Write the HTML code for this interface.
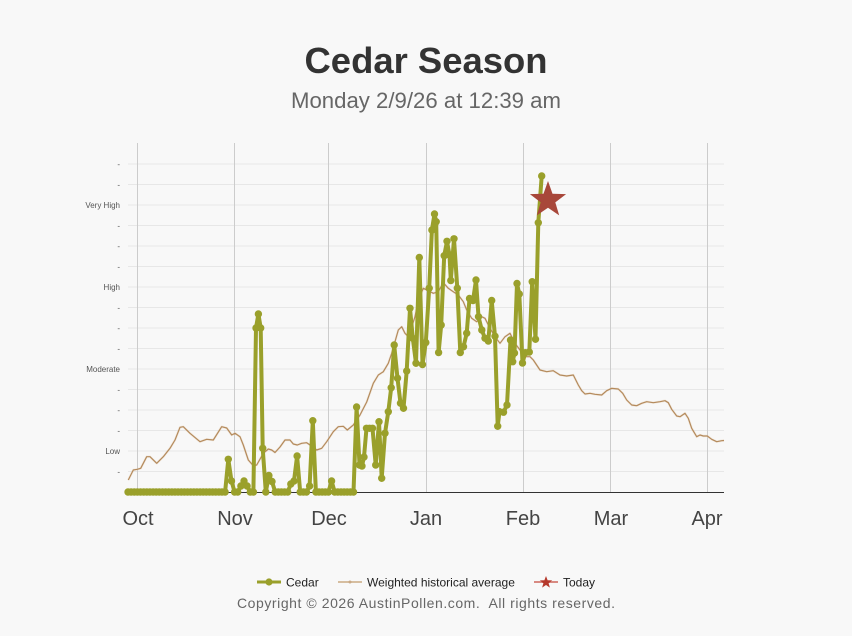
<!DOCTYPE html>
<html>
<head>
<meta charset="utf-8">
<style>
  html,body{margin:0;padding:0;background:#f8f8f8;}
  svg{display:block;}
  text{font-family:"Liberation Sans",Arial,sans-serif;}
</style>
</head>
<body>
<svg width="852" height="636" viewBox="0 0 852 636" xmlns="http://www.w3.org/2000/svg">
  <defs>
    <marker id="cdot" markerUnits="userSpaceOnUse" markerWidth="10" markerHeight="10" refX="5" refY="5">
      <circle cx="5" cy="5" r="3.7" fill="#9aa02b"/>
    </marker>
  </defs>
  <rect width="852" height="636" fill="#f8f8f8"/>

  <!-- Title -->
  <text x="426" y="73" text-anchor="middle" font-size="36" font-weight="bold" fill="#333" textLength="243" lengthAdjust="spacingAndGlyphs">Cedar Season</text>
  <text x="426" y="108" text-anchor="middle" font-size="22" fill="#666" textLength="270" lengthAdjust="spacingAndGlyphs">Monday 2/9/26 at 12:39 am</text>

  <!-- horizontal gridlines -->
  <g stroke="#e7e7e7" stroke-width="1">
    <line x1="128" x2="724" y1="471.5" y2="471.5"/>
    <line x1="128" x2="724" y1="451" y2="451"/>
    <line x1="128" x2="724" y1="430.5" y2="430.5"/>
    <line x1="128" x2="724" y1="410" y2="410"/>
    <line x1="128" x2="724" y1="389.5" y2="389.5"/>
    <line x1="128" x2="724" y1="369" y2="369"/>
    <line x1="128" x2="724" y1="348.5" y2="348.5"/>
    <line x1="128" x2="724" y1="328" y2="328"/>
    <line x1="128" x2="724" y1="307.5" y2="307.5"/>
    <line x1="128" x2="724" y1="287" y2="287"/>
    <line x1="128" x2="724" y1="266.5" y2="266.5"/>
    <line x1="128" x2="724" y1="246" y2="246"/>
    <line x1="128" x2="724" y1="225.5" y2="225.5"/>
    <line x1="128" x2="724" y1="205" y2="205"/>
    <line x1="128" x2="724" y1="184.5" y2="184.5"/>
    <line x1="128" x2="724" y1="164" y2="164"/>
  </g>

  <!-- vertical gridlines -->
  <g stroke="#cccccc" stroke-width="1">
    <line x1="137.5" x2="137.5" y1="143" y2="492"/>
    <line x1="234.5" x2="234.5" y1="143" y2="492"/>
    <line x1="328.5" x2="328.5" y1="143" y2="492"/>
    <line x1="426.5" x2="426.5" y1="143" y2="492"/>
    <line x1="523.5" x2="523.5" y1="143" y2="492"/>
    <line x1="610.5" x2="610.5" y1="143" y2="492"/>
    <line x1="707.5" x2="707.5" y1="143" y2="492"/>
  </g>

  <!-- y labels -->
  <g font-size="8" fill="#555" text-anchor="end">
    <text x="120" y="474.5">-</text>
    <text x="120" y="454">Low</text>
    <text x="120" y="433.5">-</text>
    <text x="120" y="413">-</text>
    <text x="120" y="392.5">-</text>
    <text x="120" y="372">Moderate</text>
    <text x="120" y="351.5">-</text>
    <text x="120" y="331">-</text>
    <text x="120" y="310.5">-</text>
    <text x="120" y="290">High</text>
    <text x="120" y="269.5">-</text>
    <text x="120" y="249">-</text>
    <text x="120" y="228.5">-</text>
    <text x="120" y="208">Very High</text>
    <text x="120" y="187.5">-</text>
    <text x="120" y="167">-</text>
  </g>

  <!-- historical average -->
  <polyline fill="none" stroke="#e6d2ba" stroke-width="2.4" stroke-linejoin="round" opacity="0.4"
    points="128.3,480 133.3,470 137.3,469.3 140.7,468.3 146.7,456.7 150,456.7 156.7,463.3 163.3,456.7 170,448.3 175,440 180,427.3 183.3,426.7 190,433.3 200,441.7 206.7,439.3 213.3,440 221.7,426.7 226.7,428 231.7,435 235,433.3 240,436.7 243.3,445 248.3,460 253.3,465.7 256.7,465 263.3,453.3 268.3,449 271.7,450 275,452.5 280,447 285,440 290,440 293.3,444 297.3,445 301.7,443.3 306.7,442.7 310,445 316.7,450 321.7,448.3 326.7,441.7 333.3,431.7 338.3,426.7 343.3,426.3 347.3,430 353.3,425 360,415 366.7,402 373.3,383.3 378.3,375 383.3,371.7 388.3,363.3 391.7,353.3 395,341.7 398.3,330 401.7,326.7 405,333.3 408.3,336.7 411.7,327 415,316.7 418.3,300 423.3,288.3 428.3,290.7 433.3,293.3 438.3,291.7 443.3,282.7 448.3,288.3 453.3,291.7 458.3,295 463.3,301.7 466.7,310 471.7,318.3 476.7,321.7 481.7,316.7 485,318.3 490,328.3 495,336.7 500,343.3 505,336.7 510,333.3 515,343.3 520,350 525,356.7 530,356.7 533.3,360 540,370 546.7,371.7 553.3,370.7 560,375 566.7,376 573.3,375 578.3,385 581.7,390.7 585,394 590,393.3 595,394.3 601.7,395 606.7,390.7 611.7,388.3 618.3,389 622.7,393.3 626.7,400 631.7,405 636.7,405.7 641.7,403.3 646.7,401.7 653.3,402.7 660,401.7 665,400.7 668.3,402.7 671.7,409.3 676.7,416 680,416.7 685,413.3 688.3,418.3 691.7,428.3 696.7,436.7 700,435 703.3,436 707.3,436 711.7,439.3 716.7,441.7 721.7,440.7 724,440.5"/>
  <polyline fill="none" stroke="#b48a5c" stroke-width="1.2" stroke-linejoin="round"
    points="128.3,480 133.3,470 137.3,469.3 140.7,468.3 146.7,456.7 150,456.7 156.7,463.3 163.3,456.7 170,448.3 175,440 180,427.3 183.3,426.7 190,433.3 200,441.7 206.7,439.3 213.3,440 221.7,426.7 226.7,428 231.7,435 235,433.3 240,436.7 243.3,445 248.3,460 253.3,465.7 256.7,465 263.3,453.3 268.3,449 271.7,450 275,452.5 280,447 285,440 290,440 293.3,444 297.3,445 301.7,443.3 306.7,442.7 310,445 316.7,450 321.7,448.3 326.7,441.7 333.3,431.7 338.3,426.7 343.3,426.3 347.3,430 353.3,425 360,415 366.7,402 373.3,383.3 378.3,375 383.3,371.7 388.3,363.3 391.7,353.3 395,341.7 398.3,330 401.7,326.7 405,333.3 408.3,336.7 411.7,327 415,316.7 418.3,300 423.3,288.3 428.3,290.7 433.3,293.3 438.3,291.7 443.3,282.7 448.3,288.3 453.3,291.7 458.3,295 463.3,301.7 466.7,310 471.7,318.3 476.7,321.7 481.7,316.7 485,318.3 490,328.3 495,336.7 500,343.3 505,336.7 510,333.3 515,343.3 520,350 525,356.7 530,356.7 533.3,360 540,370 546.7,371.7 553.3,370.7 560,375 566.7,376 573.3,375 578.3,385 581.7,390.7 585,394 590,393.3 595,394.3 601.7,395 606.7,390.7 611.7,388.3 618.3,389 622.7,393.3 626.7,400 631.7,405 636.7,405.7 641.7,403.3 646.7,401.7 653.3,402.7 660,401.7 665,400.7 668.3,402.7 671.7,409.3 676.7,416 680,416.7 685,413.3 688.3,418.3 691.7,428.3 696.7,436.7 700,435 703.3,436 707.3,436 711.7,439.3 716.7,441.7 721.7,440.7 724,440.5"/>

  <!-- x axis line -->
  <line x1="128" x2="724" y1="492.5" y2="492.5" stroke="#333" stroke-width="1"/>

  <!-- cedar series -->
  <polyline fill="none" stroke="#9aa02b" stroke-width="4" stroke-linejoin="round" stroke-linecap="round"
    marker-start="url(#cdot)" marker-mid="url(#cdot)" marker-end="url(#cdot)"
    points="128,492 131.1,492 134.3,492 137.4,492 140.5,492 143.7,492 146.8,492 149.9,492 153.1,492 156.2,492 159.3,492 162.5,492 165.6,492 168.7,492 171.9,492 175,492 178.1,492 181.3,492 184.4,492 187.5,492 190.7,492 193.8,492 196.9,492 200.1,492 203.2,492 206.3,492 209.5,492 212.6,492 215.7,492 218.9,492 222,492 225.1,492 228.3,459.3 231.5,481 234.6,492 237.7,492 240.9,486 244,481 247.1,486 250.3,492 253.4,492 256,328 258.4,314 260.7,328 262.7,448.3 265.8,492 268.9,475.5 272,481.5 275.2,492 278.3,492 281.4,492 284.6,492 287.7,492 290.8,484 294,481 297.1,456 300.2,492 303.4,492 306.5,492 309.6,486 312.8,420.7 315.9,492 319,492 322.2,492 325.3,492 328.4,492 331.6,481 334.7,492 337.8,492 341,492 344.1,492 347.2,492 350.4,492 353.5,492 356.6,407 359.5,465 362,466 364,457 366.5,428.3 369.5,428.3 372.5,428.3 375.7,465 379,421.7 381.7,478.3 385,433.3 388.3,411.7 391.2,387.7 394.2,345 397.5,378.3 400.5,403.3 403.5,408.3 406.7,371 410,308.3 412.8,338.3 416,363.3 419.3,257.5 422.5,364.5 425.8,342.5 429.2,288.3 431.9,230 434.5,214 436.2,221.7 438.6,352.5 441.2,325 444.2,255.7 447,241.3 449.5,255 450.8,280.5 454,238.8 457.3,288.3 460.3,352.5 463.5,346.7 466.7,333.3 469.5,298.5 473,300.5 476,280 478.5,316.7 481.8,330 485,338.3 488.3,341 491.7,300.5 495,336.3 497.7,426.3 499.5,411.7 503.5,412.2 507,405 510.5,340 512.7,361.7 514.5,353 517,283.5 519.3,294 522.5,363 525.3,352.7 529.3,352 532.2,281.7 535.5,339.3 538.3,222.7 541.7,176"/>

  <!-- today star -->
  <polygon fill="#a8473a" points="548,181 552.5,193.8 566.1,194.1 555.3,202.4 559.2,215.4 548,207.7 536.8,215.4 540.7,202.4 529.9,194.1 543.5,193.8"/>

  <!-- x labels -->
  <g font-size="20" fill="#444" text-anchor="middle">
    <text x="138" y="525">Oct</text>
    <text x="235" y="525">Nov</text>
    <text x="329" y="525">Dec</text>
    <text x="426" y="525">Jan</text>
    <text x="523" y="525">Feb</text>
    <text x="611" y="525">Mar</text>
    <text x="707" y="525">Apr</text>
  </g>

  <!-- legend -->
  <line x1="257" x2="281" y1="582" y2="582" stroke="#9aa02b" stroke-width="3"/>
  <circle cx="269" cy="582" r="3.6" fill="#9aa02b"/>
  <text x="286" y="586.5" font-size="12" fill="#222">Cedar</text>

  <line x1="338" x2="362" y1="582" y2="582" stroke="#d6bea0" stroke-width="2"/>
  <circle cx="350" cy="582" r="1.5" fill="#c9a986"/>
  <text x="367" y="586.5" font-size="12" fill="#222">Weighted historical average</text>

  <line x1="534" x2="558" y1="582" y2="582" stroke="#d88a82" stroke-width="2"/>
  <polygon fill="#b5392c" points="546,576 547.6,580.3 552.2,580.4 548.6,583.2 549.9,587.6 546,585 542.1,587.6 543.4,583.2 539.8,580.4 544.4,580.3"/>
  <text x="563" y="586.5" font-size="12" fill="#222">Today</text>

  <!-- copyright -->
  <text x="237" y="608" font-size="14" fill="#666" textLength="378" lengthAdjust="spacing" xml:space="preserve">Copyright © 2026 AustinPollen.com.  All rights reserved.</text>
</svg>
</body>
</html>
